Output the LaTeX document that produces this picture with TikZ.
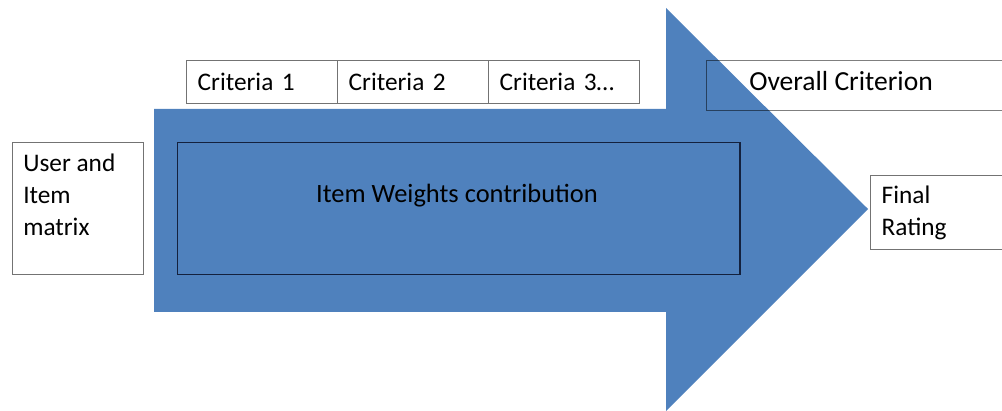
\documentclass[tikz,border=0pt]{standalone}
\usepackage{fontspec}
\setmainfont{Carlito}
\definecolor{arrowblue}{HTML}{4F81BD}
\definecolor{framenavy}{HTML}{14213D}
\begin{document}
\begin{tikzpicture}[x=0.025cm,y=-0.025cm,
        txt/.style={font=\fontsize{18}{22.8}\selectfont,inner sep=0pt,text=black},
        box/.style={draw=black!55,line width=1pt,anchor=north west,inner sep=0pt},
        critbox/.style={box,txt,inner xsep=0.275cm,text width=3.225cm,minimum height=1.075cm,align=left}]
        \useasboundingbox (0,0) rectangle (1002,411);
        \clip (0,0) rectangle (1002,411);
        % the big arrow
        \coordinate (S1) at (154,109);
        \coordinate (S2) at (666,109);
        \coordinate (H1) at (666,8);
        \coordinate (T) at (868,209);
        \coordinate (H2) at (666,411);
        \coordinate (S3) at (666,312);
        \coordinate (S4) at (154,312);
        \fill[arrowblue] (S1)--(S2)--(H1)--(T)--(H2)--(S3)--(S4)--cycle;
        % boxes
        \node[box,minimum width=3.275cm,minimum height=3.3cm] (user) at (12,142) {};
        \node[txt,anchor=north west,align=left] (usertxt) at ([xshift=0.275cm,yshift=-0.29cm]user.north west) {User and\\Item\\matrix};
        \node[critbox] (crit1) at (186,60) {Criteria 1};
        \node[critbox] (crit2) at (337,60) {Criteria 2};
        \node[critbox] (crit3) at (488,60) {Criteria 3\ldots};
        \node[box,draw=black,draw opacity=0.5,minimum width=7.6cm,minimum height=1.25cm] (overall) at (706,60) {};
        \node[txt,font=\fontsize{19.6}{24}\selectfont] (overalltxt) at (841,81) {Overall Criterion};
        \node[box,draw=framenavy,minimum width=14.05cm,minimum height=3.3cm] (weights) at (177,142) {};
        \node[txt,font=\fontsize{18.8}{23}\selectfont] (weightstxt) at (457,196) {Item Weights contribution};
        \node[critbox,text width=2.95cm,minimum height=1.85cm] (final) at (870,175) {Final\\Rating};
    \end{tikzpicture}
\end{document}
